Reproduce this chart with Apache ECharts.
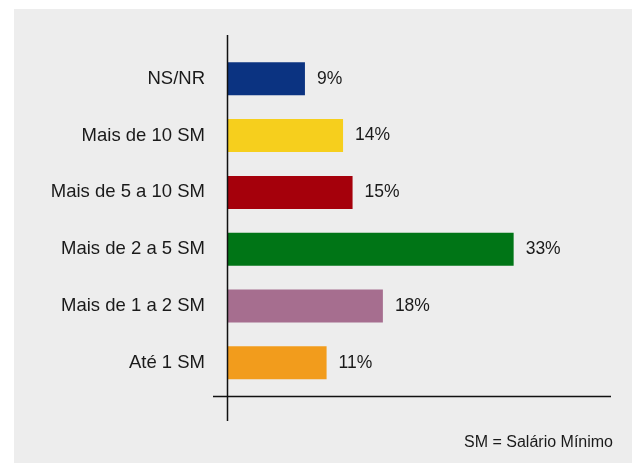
<!DOCTYPE html>
<html>
<head>
<meta charset="utf-8">
<script src="https://cdn.jsdelivr.net/npm/echarts@6/dist/echarts.min.js"></script>
<style>
  html, body { margin: 0; padding: 0; background: #fff; }
  #renda { width: 632px; height: 463px; }
</style>
</head>
<body>
<div id="renda"></div>
<script>
// faixas de renda, de baixo para cima
const categories = ['Até 1 SM', 'Mais de 1 a 2 SM', 'Mais de 2 a 5 SM', 'Mais de 5 a 10 SM', 'Mais de 10 SM', 'NS/NR']
// comprimento das barras e rótulos arredondados
const values = [11.5, 18, 33.1, 14.5, 13.4, 9]
const valueLabels = ['11%', '18%', '33%', '15%', '14%', '9%']
const barColors = ['#f29c1c', '#a66e8f', '#007516', '#a5000b', '#f6cf1d', '#0b3381']
const footnote = 'SM = Salário Mínimo'

const font = '"Liberation Sans", Arial, Helvetica, sans-serif'

const chart = echarts.init(document.getElementById('renda'), null, { renderer: 'canvas' })
chart.setOption({
  backgroundColor: '#ffffff',
  animation: false,
  textStyle: { fontFamily: font },
  grid: {
    left: 227,
    right: 58.6,
    top: 50.4,
    bottom: 71.8,
    containLabel: false,
  },
  xAxis: {
    type: 'value',
    min: 0,
    max: 40,
    show: false,
  },
  yAxis: {
    type: 'category',
    data: categories,
    axisLine: { show: false },
    axisTick: { show: false },
    splitLine: { show: false },
    axisLabel: {
      margin: 22,
      fontSize: 18.5,
      color: '#1a1a1a',
      fontFamily: font,
    },
  },
  graphic: [
    // painel cinza
    {
      type: 'rect',
      z: -10,
      silent: true,
      shape: { x: 14, y: 9, width: 618, height: 454 },
      style: { fill: '#ededed' },
    },
    // eixos desenhados à mão
    {
      type: 'line',
      z: 10,
      silent: true,
      shape: { x1: 227.5, y1: 35, x2: 227.5, y2: 421 },
      style: { stroke: '#111', lineWidth: 1.5 },
    },
    {
      type: 'line',
      z: 10,
      silent: true,
      shape: { x1: 213, y1: 396.5, x2: 611, y2: 396.5 },
      style: { stroke: '#111', lineWidth: 1.5 },
    },
    {
      type: 'text',
      silent: true,
      right: 19,
      top: 435,
      style: {
        text: footnote,
        fontSize: 16,
        fill: '#1a1a1a',
        fontFamily: font,
      },
    },
  ],
  series: [
    {
      type: 'bar',
      barWidth: 33,
      data: values.map((v, i) => ({
        value: v,
        itemStyle: { color: barColors[i] },
      })),
      label: {
        show: true,
        position: 'right',
        distance: 12,
        fontSize: 17.5,
        color: '#1a1a1a',
        fontFamily: font,
        formatter: (p) => valueLabels[p.dataIndex],
      },
    },
  ],
})
</script>
</body>
</html>
